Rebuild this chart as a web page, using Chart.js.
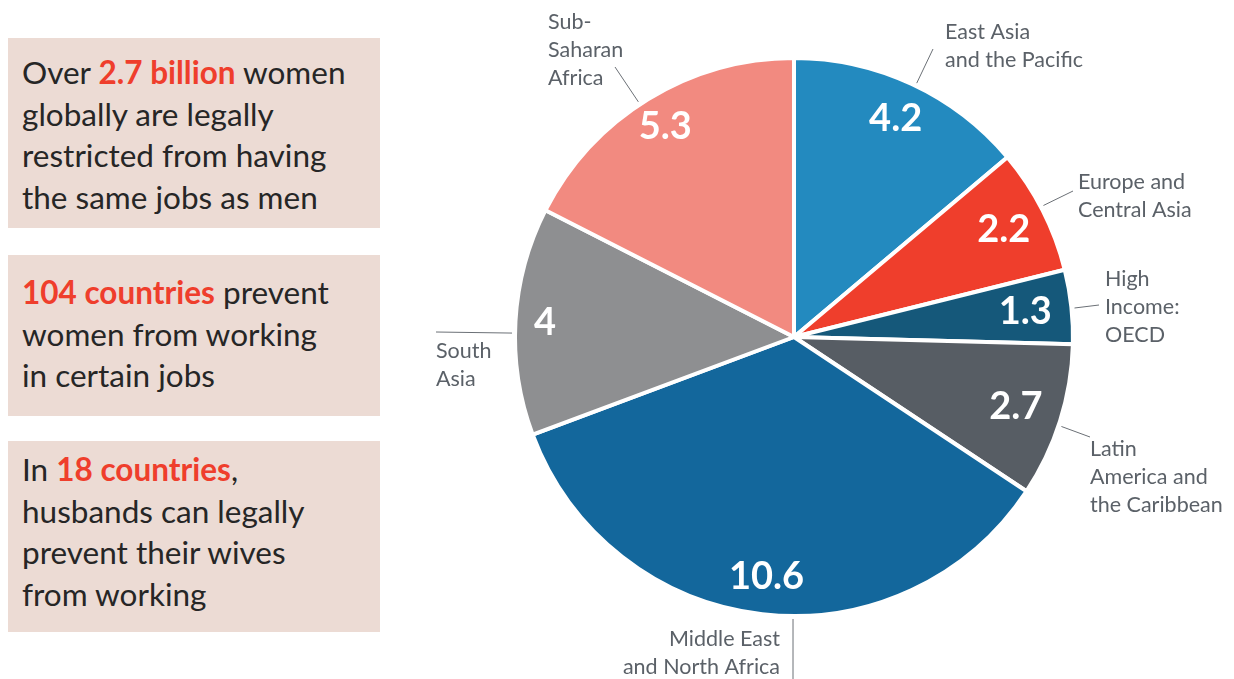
<!DOCTYPE html>
<html lang="en">
  <head>
    <meta charset="UTF-8" />
    <title>Women legally restricted from jobs</title>
    <script src="https://cdn.jsdelivr.net/npm/chart.js"></script>
    <style>
      body { margin: 0; background: #fff; font-family: Lato, "Open Sans", sans-serif; }
      #page { position: relative; width: 1234px; height: 679px; overflow: hidden; }
      canvas { position: absolute; left: 0; top: 0; }
      .box {
        position: absolute; left: 8px; width: 358px; padding-left: 14px;
        background: #ecdbd4; color: #262626; font-size: 31.5px; line-height: 41.5px;
        box-sizing: content-box; white-space: nowrap;
      }
      .box b { color: #ef3e2c; }
    </style>
  </head>
  <body>
    <div id="page">
      <div class="box" style="top:38px;height:176px;padding-top:14px">
        Over <b>2.7 billion</b> women<br />globally are legally<br />restricted from having<br />the same jobs as men
      </div>
      <div class="box" style="top:255px;height:144px;padding-top:17px">
        <b>104 countries</b> prevent<br />women from working<br />in certain jobs
      </div>
      <div class="box" style="top:441px;height:183px;padding-top:8px">
        In <b>18 countries</b>,<br />husbands can legally<br />prevent their wives<br />from working
      </div>
      <canvas id="pie" width="1234" height="679"></canvas>
    </div>

    <script>
      // Regions in clockwise order from 12 o'clock
      const regions = [
        ["East Asia", "and the Pacific"],
        ["Europe and", "Central Asia"],
        ["High", "Income:", "OECD"],
        ["Latin", "America and", "the Caribbean"],
        ["Middle East", "and North Africa"],
        ["South", "Asia"],
        ["Sub-", "Saharan", "Africa"],
      ];
      const values = [4.2, 2.2, 1.3, 2.7, 10.6, 4, 5.3];
      const colors = ["#238abf", "#ef3e2c", "#15587a", "#575d64", "#13679c", "#8e8f91", "#f28a80"];

      // label placement (leader angle in deg from top, leader end, text anchor)
      const labelLayout = [
        { ang: 25.8, end: [933, 49], x: 945, y: 39, align: "left" },
        { ang: 62.2, end: [1073, 191], x: 1078, y: 189, align: "left" },
        { ang: 84.1, end: [1099, 305], x: 1105, y: 286, align: "left" },
        { ang: 108.5, end: [1090, 437], x: 1090, y: 456, align: "left" },
        { ang: 180.2, end: [793, 679], x: 780, y: 646, align: "right" },
        { ang: 270.8, end: [436, 332], x: 436, y: 358, align: "left" },
        { ang: 326.5, end: [615, 67], x: 548, y: 29, align: "left" },
      ];
      const valueRadius = [0.87, 0.85, 0.84, 0.84, 0.87, 0.9, 0.89];

      const labelsPlugin = {
        id: "pieLabels",
        afterDatasetsDraw(chart) {
          const ctx = chart.ctx;
          const arcs = chart.getDatasetMeta(0).data;
          ctx.save();
          arcs.forEach((arc, i) => {
            const { x, y, startAngle, endAngle, outerRadius } = arc.getProps(
              ["x", "y", "startAngle", "endAngle", "outerRadius"], true);
            const mid = (startAngle + endAngle) / 2;
            const r = (outerRadius - 2) * valueRadius[i];
            ctx.fillStyle = "#fff";
            ctx.font = "bold 38px Lato";
            ctx.textAlign = "center";
            ctx.textBaseline = "middle";
            ctx.fillText(String(values[i]), x + r * Math.cos(mid), y + r * Math.sin(mid));

            // leader line and category label
            const lay = labelLayout[i];
            const a = (lay.ang - 90) * Math.PI / 180;
            const r0 = outerRadius + 3;
            ctx.strokeStyle = "#6b7076";
            ctx.lineWidth = 1;
            ctx.beginPath();
            ctx.moveTo(x + r0 * Math.cos(a), y + r0 * Math.sin(a));
            ctx.lineTo(lay.end[0], lay.end[1]);
            ctx.stroke();

            ctx.fillStyle = "#5b6168";
            ctx.font = "21.5px Lato";
            ctx.textAlign = lay.align;
            ctx.textBaseline = "alphabetic";
            regions[i].forEach((line, k) => {
              ctx.fillText(line, lay.x, lay.y + k * 28);
            });
          });
          ctx.restore();
        },
      };

      new Chart(document.getElementById("pie").getContext("2d"), {
        type: "pie",
        data: {
          labels: regions.map((r) => r.join(" ")),
          datasets: [
            {
              data: values,
              backgroundColor: colors,
              borderColor: "#ffffff",
              borderWidth: 4,
            },
          ],
        },
        options: {
          responsive: false,
          animation: false,
          radius: 279,
          layout: { padding: { left: 354, bottom: 5 } },
          plugins: { legend: { display: false }, tooltip: { enabled: false } },
        },
        plugins: [labelsPlugin],
      });
    </script>
  </body>
</html>
